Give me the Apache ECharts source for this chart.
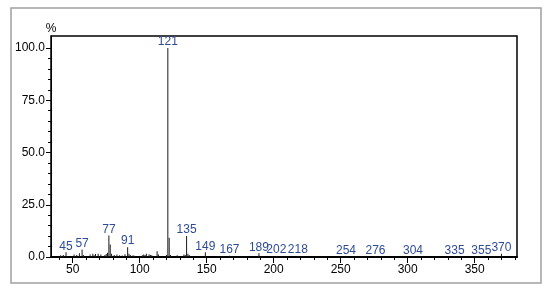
<!DOCTYPE html>
<html>
<head>
<meta charset="utf-8">
<script src="https://cdn.jsdelivr.net/npm/echarts@6/dist/echarts.min.js"></script>
<style>
  html, body { margin: 0; padding: 0; background: #fff; }
  #chart { width: 550px; height: 296px; }
</style>
</head>
<body>
<div id="chart"></div>
<script>
// m/z values and relative intensities (%)
const mz = [41, 43, 45, 51, 53, 55, 57, 58, 63, 65, 66, 67, 69, 71, 74, 75, 76, 77, 78, 79,
  81, 83, 85, 87, 89, 91, 92, 93, 95, 96, 102, 103, 104, 105, 107, 108, 109, 113, 114,
  120, 121, 122, 123, 128, 133, 134, 135, 136, 137, 149, 167, 189, 202, 218, 254, 276,
  304, 335, 355, 370];
const intensity = [0.8, 1.0, 2.3, 1.2, 1.0, 1.8, 3.6, 1.0, 1.2, 1.6, 0.8, 1.4, 1.5, 1.2, 1.0, 1.4, 2.0, 10.3, 6.0, 1.5,
  1.0, 1.2, 0.8, 0.7, 1.3, 4.7, 1.5, 1.0, 0.8, 0.6, 0.8, 1.2, 1.0, 1.5, 1.3, 1.0, 0.8, 2.8, 1.2,
  1.0, 100, 9.2, 1.0, 0.8, 1.2, 1.0, 10.0, 1.5, 1.0, 2.3, 0.6, 1.8, 0.5, 0.4, 0.3, 0.3,
  0.3, 0.3, 0.3, 1.5];
const labeledPeaks = [45, 57, 77, 91, 121, 135, 149, 167, 189, 202, 218, 254, 276, 304, 335, 355, 370];

const xTicks = [50, 100, 150, 200, 250, 300, 350];
const xMinorTicks = [40, 60, 70, 80, 90, 110, 120, 130, 140, 160, 170, 180, 190, 210, 220, 230, 240,
  260, 270, 280, 290, 310, 320, 330, 340, 360, 370, 380];
const yTicks = [0, 25, 50, 75, 100];
const yMinorTicks = [5, 10, 15, 20, 30, 35, 40, 45, 55, 60, 65, 70, 80, 85, 90, 95];

const xMin = 33.8, xMax = 381.6;
const yMax = 105.75;
const font = '"Liberation Sans", Arial, sans-serif';

const chart = echarts.init(document.getElementById('chart'));

const option = {
  animation: false,
  graphic: [{
    type: 'rect',
    shape: { x: 11, y: 8, width: 530, height: 275 },
    style: { fill: 'none', stroke: '#a0a0a0', lineWidth: 1.5 },
    silent: true
  }],
  grid: {
    left: 51, right: 33, top: 36, bottom: 39,
    show: true, borderColor: '#000', borderWidth: 1.5
  },
  xAxis: [{
    type: 'value', min: xMin, max: xMax,
    axisLine: { lineStyle: { color: '#000', width: 2 } },
    axisTick: { customValues: xTicks, length: 6, lineStyle: { color: '#000' } },
    axisLabel: { customValues: xTicks, color: '#000', fontFamily: font, fontSize: 12, margin: 7 },
    splitLine: { show: false }
  }, {
    type: 'value', min: xMin, max: xMax, position: 'bottom',
    axisLine: { show: false },
    axisTick: { customValues: xMinorTicks, length: 3, lineStyle: { color: '#000' } },
    axisLabel: { show: false },
    splitLine: { show: false }
  }],
  yAxis: [{
    type: 'value', min: 0, max: yMax,
    name: '%', nameLocation: 'end', nameGap: 1,
    nameTextStyle: { color: '#000', fontFamily: font, fontSize: 12, align: 'center' },
    axisLine: { show: true, lineStyle: { color: '#000', width: 1 } },
    axisTick: { customValues: yTicks, length: 5, lineStyle: { color: '#000' } },
    axisLabel: {
      customValues: yTicks, color: '#000', fontFamily: font, fontSize: 12, margin: 6,
      formatter: v => v.toFixed(1)
    },
    splitLine: { show: false }
  }, {
    type: 'value', min: 0, max: yMax, position: 'left',
    axisLine: { show: false },
    axisTick: { customValues: yMinorTicks, length: 3, lineStyle: { color: '#000' } },
    axisLabel: { show: false },
    splitLine: { show: false }
  }],
  series: [{
    type: 'bar',
    xAxisIndex: 0,
    yAxisIndex: 0,
    barWidth: 1,
    itemStyle: { color: '#1a1a1a' },
    label: {
      position: 'top', distance: 0,
      color: '#2f4b95', fontFamily: font, fontSize: 12,
      formatter: p => p.value[0]
    },
    data: mz.map((m, i) => ({
      value: [m, intensity[i]],
      label: { show: labeledPeaks.includes(m) }
    }))
  }]
};

chart.setOption(option);
</script>
</body>
</html>
